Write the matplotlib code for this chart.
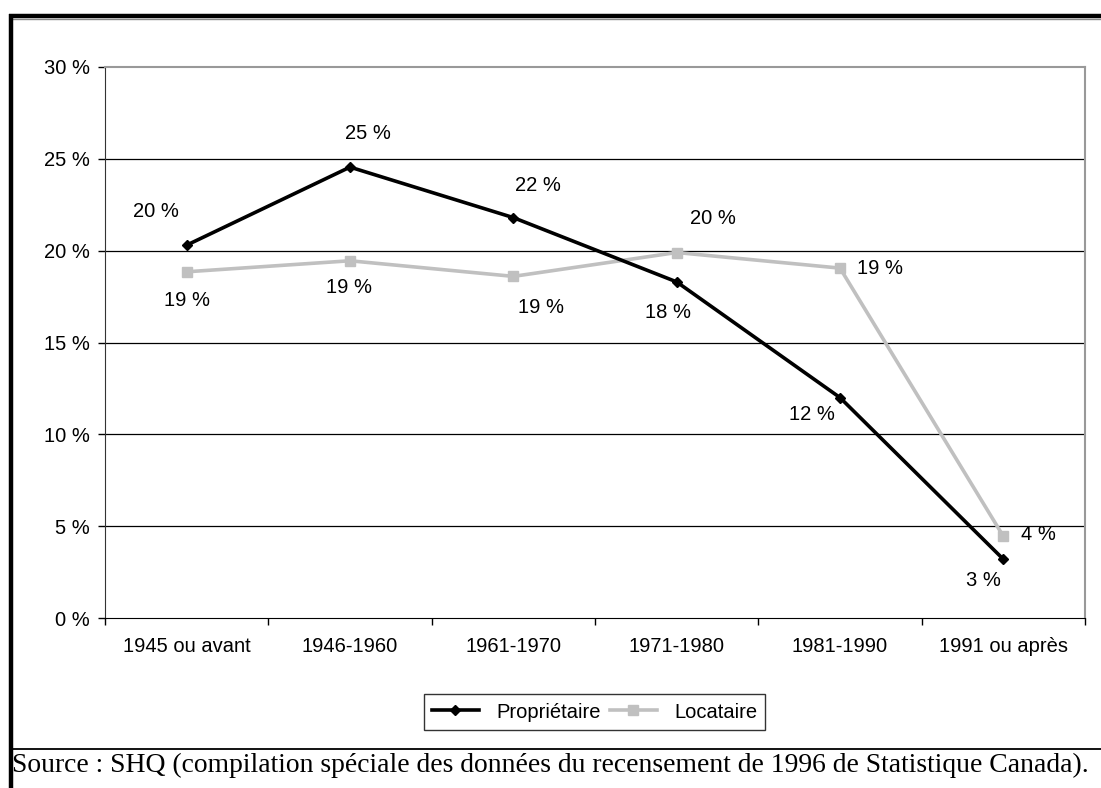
import numpy as np
import matplotlib
matplotlib.use("Agg")
import matplotlib.pyplot as plt
from matplotlib.lines import Line2D

plt.rcParams['font.family'] = ['Liberation Sans', 'DejaVu Sans']

categories = ["1945 ou avant", "1946-1960", "1961-1970", "1971-1980", "1981-1990", "1991 ou après"]
proprietaire = [20.3, 24.55, 21.8, 18.3, 12.0, 3.2]
locataire = [18.85, 19.45, 18.6, 19.9, 19.05, 4.45]
prop_labels = ["20 %", "25 %", "22 %", "18 %", "12 %", "3 %"]
loc_labels = ["19 %", "19 %", "19 %", "20 %", "19 %", "4 %"]
y_ticks = [0, 5, 10, 15, 20, 25, 30]
source = "Source : SHQ (compilation spéciale des données du recensement de 1996 de Statistique Canada)."

# offsets des étiquettes (points)
prop_off = [(-22, 24), (13, 24), (18, 23), (-6, -22), (-20, -12), (-14, -15.5)]
loc_off = [(0, -21), (-1, -19), (20, -22.5), (26, 24.5), (29, 0), (25, 1)]

fs = 14.5

fig = plt.figure(figsize=(11.01, 7.88), dpi=100)
ax = fig.add_axes([105 / 1101, 1 - 618 / 788, 980 / 1101, 551 / 788])

x = np.arange(len(categories))
ax.plot(x, proprietaire, color="black", lw=2.6, marker="D", ms=5, zorder=4, label="Propriétaire")
ax.plot(x, locataire, color="#c0c0c0", lw=2.6, marker="s", ms=6.5, zorder=3, label="Locataire")

for i in range(len(x)):
    ax.annotate(prop_labels[i], (x[i], proprietaire[i]), xytext=prop_off[i], textcoords="offset points",
                ha="center", va="center", fontsize=fs)
    ax.annotate(loc_labels[i], (x[i], locataire[i]), xytext=loc_off[i], textcoords="offset points",
                ha="center", va="center", fontsize=fs)

ax.set_xlim(-0.5, len(categories) - 0.5)
ax.set_ylim(0, 30)
ax.set_yticks(y_ticks)
ax.set_yticklabels([f"{v} %" for v in y_ticks], fontsize=fs)
ax.set_xticks(x)
ax.set_xticklabels(categories, fontsize=fs)
ax.set_xticks(np.arange(len(categories) + 1) - 0.5, minor=True)
ax.tick_params(axis="x", which="major", length=0, pad=14)
ax.tick_params(axis="x", which="minor", length=5, width=1, direction="out")
ax.tick_params(axis="y", length=5, width=1, direction="out", pad=6)

for v in y_ticks[1:-1]:
    ax.axhline(v, color="black", lw=0.9, zorder=1)
ax.spines["top"].set_color("#999999")
ax.spines["right"].set_color("#999999")
ax.spines["top"].set_linewidth(1.5)
ax.spines["right"].set_linewidth(1.5)
ax.spines["left"].set_color("#333333")
ax.spines["bottom"].set_color("black")

leg = ax.legend(loc="center", bbox_to_anchor=(594.5 / 1101, 1 - 712 / 788), bbox_transform=fig.transFigure,
                ncol=2, frameon=True, fancybox=False, fontsize=fs, handlelength=2.35,
                columnspacing=0.45, handletextpad=0.85, borderpad=0.4, borderaxespad=0)
leg.get_frame().set_edgecolor("black")
leg.get_frame().set_linewidth(1)

# cadre
fig.add_artist(Line2D([9 / 1101, 1], [1 - 15.5 / 788] * 2, color="black", lw=3.2, solid_capstyle="butt"))
fig.add_artist(Line2D([12 / 1101, 1], [1 - 19 / 788] * 2, color="#888888", lw=1, solid_capstyle="butt"))
fig.add_artist(Line2D([10.5 / 1101] * 2, [0, 1 - 14 / 788], color="black", lw=3.2, solid_capstyle="butt"))
fig.add_artist(Line2D([10 / 1101, 1], [1 - 749 / 788] * 2, color="black", lw=1.3, solid_capstyle="butt"))

fig.text(12 / 1101, 1 - 772 / 788, source, fontsize=19.9, family=["Liberation Serif", "DejaVu Serif"],
         ha="left", va="baseline")

fig.savefig("out.png", dpi=100)
